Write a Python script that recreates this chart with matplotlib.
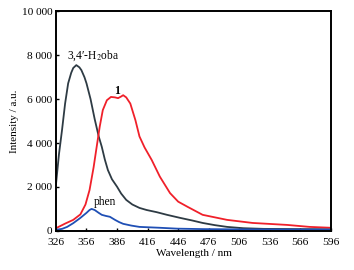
import numpy as np
import matplotlib
matplotlib.use('Agg')
import matplotlib.pyplot as plt
from matplotlib.ticker import FuncFormatter

plt.rcParams['font.family'] = ['Liberation Serif', 'DejaVu Serif']
plt.rcParams['mathtext.fontset'] = 'stix'

# 3,4'-H2oba ligand
wl_oba = [326, 329, 332, 335, 338, 341, 343, 346, 349, 351, 354, 356, 360, 364, 368, 371, 374,
          377, 381, 386, 390, 395, 401, 408, 415, 425, 435, 448, 460, 470, 482, 494, 510, 530, 560, 596]
int_oba = [2100, 3500, 4600, 5800, 6720, 7200, 7420, 7550, 7450, 7320, 7000, 6720, 6000, 5100,
           4300, 3830, 3250, 2770, 2350, 2010, 1700, 1410, 1200, 1045, 950, 850, 730, 590, 470,
           360, 260, 180, 120, 90, 80, 70]

# compound 1
wl_1 = [326, 335, 343, 350, 355, 359, 363, 366, 369, 372, 376, 380, 384, 387, 390, 392, 395,
        399, 404, 408, 413, 420, 428, 438, 446, 455, 470, 494, 519, 553, 575, 596]
int_1 = [120, 330, 500, 750, 1200, 1860, 2900, 3830, 4750, 5500, 5950, 6100, 6080, 6045, 6120,
         6180, 6080, 5800, 5045, 4300, 3800, 3230, 2470, 1720, 1330, 1100, 730, 500, 360, 270,
         180, 140]

# phen
wl_phen = [326, 332, 337, 343, 350, 356, 359, 361, 364, 368, 371, 375, 379, 384, 388, 392, 400,
           408, 418, 428, 445, 470, 500, 550, 596]
int_phen = [50, 90, 180, 350, 590, 820, 950, 1000, 950, 820, 730, 680, 640, 500, 400, 320, 240,
            180, 160, 140, 100, 80, 70, 60, 60]

fig, ax = plt.subplots(figsize=(3.54, 2.70), dpi=100)
fig.subplots_adjust(left=0.158, right=0.935, top=0.958, bottom=0.145)

ax.plot(wl_oba, int_oba, color='#2e3b44', lw=1.3)
ax.plot(wl_1, int_1, color='#f0202a', lw=1.3)
ax.plot(wl_phen, int_phen, color='#1f4fb5', lw=1.3)

ax.text(362, 8000, "3,4\u2032-H$_2$oba", fontsize=8.3, ha='center', va='center')
ax.text(386, 6350, "1", fontsize=8.5, fontweight='bold', ha='center', va='center')
ax.text(374, 1320, "phen", fontsize=8.3, ha='center', va='center')

ax.set_xlim(326, 596)
ax.set_ylim(0, 10000)
ax.set_xticks(np.arange(326, 597, 30))
ax.set_yticks(np.arange(0, 10001, 2000))
ax.yaxis.set_major_formatter(FuncFormatter(lambda v, p: '{:,}'.format(int(v)).replace(',', ' ')))
ax.tick_params(direction='in', length=2.5, width=1, labelsize=8.2)
ax.tick_params(axis='x', pad=5)
ax.tick_params(axis='y', pad=2.5)
for s in ax.spines.values():
    s.set_linewidth(1.4)

ax.set_xlabel('Wavelength / nm', fontsize=8, labelpad=1.5)
ax.set_ylabel('Intensity / a.u.', fontsize=8, labelpad=2)

plt.savefig('out.png', dpi=100)
